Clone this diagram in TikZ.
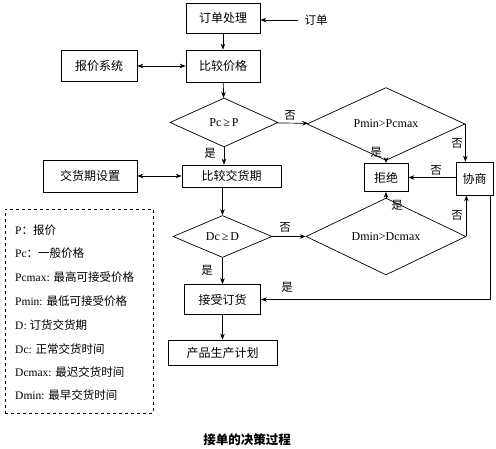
\documentclass[tikz,border=0pt]{standalone}
\usepackage{fontspec}
\setmainfont{Liberation Serif}
\newfontfamily\cjk{Noto Sans CJK SC}
\usetikzlibrary{shapes.geometric,arrows.meta}
\tikzset{
  box/.style={draw, line width=0.7pt, inner sep=0pt, font=\cjk\fontsize{12}{14}\selectfont},
  dia/.style={draw, diamond, inner sep=0pt, line width=0.7pt, font=\fontsize{12}{14}\selectfont},
  lbl/.style={font=\cjk\fontsize{11.5}{13}\selectfont, inner sep=0pt},
  leg/.style={anchor=west, inner sep=0pt, font=\fontsize{11.5}{13}\selectfont},
  arr/.style={-{Stealth[length=6pt,width=4.5pt]}, line width=0.7pt},
  darr/.style={{Stealth[length=6pt,width=4.5pt]}-{Stealth[length=6pt,width=4.5pt]}, line width=0.7pt},
}
\begin{document}
\begin{tikzpicture}[x=1pt,y=-1pt]
\useasboundingbox (0,0) rectangle (496,449);
% boxes
\node[box, minimum width=74pt, minimum height=30pt] (proc) at (223,18) {订单处理};
\node[lbl, inner xsep=6pt] (ordtxt) at (316,20) {订单};
\node[box, minimum width=74pt, minimum height=32pt] (cmpP) at (223,66) {比较价格};
\node[box, minimum width=76pt, minimum height=31pt] (quote) at (99,66) {报价系统};
\node[dia, minimum width=108pt, minimum height=49pt] (d1) at (224,122.5) {Pc\,≥\,P};
\node[dia, minimum width=158pt, minimum height=42pt] (d2) at (386,124) {Pmin>Pcmax};
\node[box, minimum width=99pt, minimum height=22pt] (cmpD) at (231.5,176) {比较交货期};
\node[box, minimum width=94pt, minimum height=32pt] (setD) at (90,176) {交货期设置};
\node[box, minimum width=44pt, minimum height=28pt] (reject) at (386,177.5) {拒绝};
\node[box, minimum width=37pt, minimum height=33pt] (nego) at (474.5,178.5) {协商};
\node[dia, minimum width=99pt, minimum height=42pt] (d3) at (222.5,236.5) {Dc\,≥\,D};
\node[dia, minimum width=160pt, minimum height=41pt] (d4) at (386,236.5) {Dmin>Dcmax};
\node[box, minimum width=76pt, minimum height=30pt] (accept) at (222.5,299.5) {接受订货};
\node[box, minimum width=109pt, minimum height=25pt] (plan) at (222.5,352.5) {产品生产计划};
\coordinate (c1) at (490,299.5);
% connectors
\draw[arr] (ordtxt.west) -- (ordtxt.west -| proc.east);
\draw[arr] (proc) -- (cmpP);
\draw[darr] (quote) -- (cmpP);
\draw[arr] (cmpP) -- (d1);
\draw[arr] (d1) -- (d2);
\draw[arr] (d1.south) -- (d1.south |- cmpD.north);
\draw[darr] (setD) -- (cmpD);
\draw[arr] (d2.south) -- (reject.north);
\draw[arr] (d2.east) -- (d2.east |- nego.north);
\draw[arr] (nego.west |- reject.east) -- (reject.east);
\draw[arr] (d3.north |- cmpD.south) -- (d3.north);
\draw[arr] (d3) -- (d4);
\draw[arr] (d4.north) -- (reject.south);
\draw[arr] (d4.east) -- (d4.east |- nego.south);
\draw[arr] (d3) -- (accept);
\draw[arr] (nego.south -| c1) -- (c1) -- (accept.east);
\draw[arr] (accept) -- (plan);
% edge labels
\node[lbl] (l1) at (290,115) {否};
\node[lbl] (l2) at (210,153) {是};
\node[lbl] (l3) at (376,152) {是};
\node[lbl] (l4) at (457,143) {否};
\node[lbl] (l5) at (436,170) {否};
\node[lbl] (l6) at (285,227) {否};
\node[lbl] (l7) at (397,205) {是};
\node[lbl] (l8) at (457,215) {否};
\node[lbl] (l9) at (207,270) {是};
\node[lbl] (l10) at (287,287) {是};
% legend
\node[draw, dashed, line width=0.7pt, minimum width=148pt, minimum height=204pt, inner sep=0pt] (legend) at (79,311) {};
\node[leg] (g1) at (15,230) {P{\cjk：报价}};
\node[leg] (g2) at (15,253) {Pc{\cjk：一般价格}};
\node[leg] (g3) at (15,277) {Pcmax: {\cjk 最高可接受价格}};
\node[leg] (g4) at (15,301) {Pmin: {\cjk 最低可接受价格}};
\node[leg] (g5) at (15,325) {D: {\cjk 订货交货期}};
\node[leg] (g6) at (15,349) {Dc: {\cjk 正常交货时间}};
\node[leg] (g7) at (15,372) {Dcmax: {\cjk 最迟交货时间}};
\node[leg] (g8) at (15,395) {Dmin: {\cjk 最早交货时间}};
% caption
\node[inner sep=0pt, font=\cjk\bfseries\fontsize{12.5}{14}\selectfont] (cap) at (247,440) {接单的决策过程};
\end{tikzpicture}
\end{document}
